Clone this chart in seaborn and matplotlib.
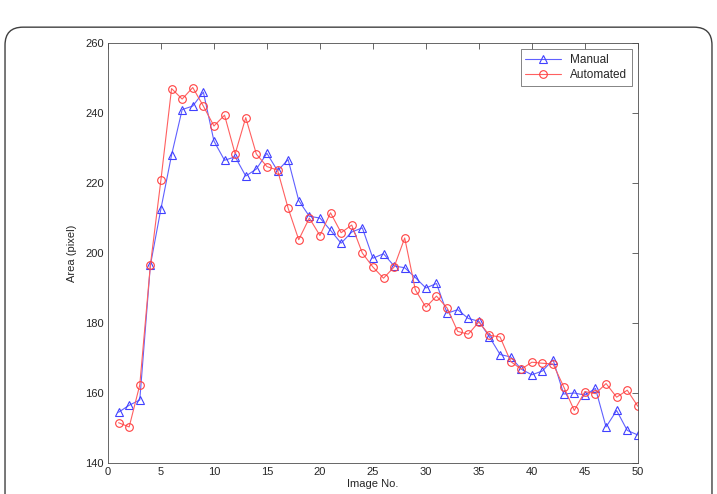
import matplotlib
matplotlib.use("Agg")
import matplotlib.pyplot as plt
from matplotlib.patches import FancyBboxPatch
import pandas as pd
import seaborn as sns

# image index and measured areas
image_no = list(range(1, 51))
manual = [154.5, 156.5, 158.0, 196.5, 212.7, 228.0, 241.0, 242.0, 246.0, 232.0,
          226.5, 227.5, 222.0, 224.0, 228.5, 223.5, 226.7, 215.0, 210.5, 210.0,
          206.5, 202.8, 206.0, 207.2, 198.5, 199.8, 196.3, 195.8, 193.0, 190.0,
          191.3, 182.8, 183.8, 181.3, 180.5, 176.0, 171.0, 170.3, 166.8, 165.2,
          166.3, 169.5, 159.7, 160.0, 159.4, 161.3, 150.3, 155.0, 149.3, 148.0]
automated = [151.5, 150.3, 162.3, 196.5, 221.0, 247.0, 244.0, 247.3, 242.0, 236.3,
             239.4, 228.3, 238.7, 228.3, 224.7, 223.7, 212.8, 203.8, 210.0, 205.0,
             211.5, 205.8, 208.0, 200.0, 196.0, 192.8, 196.0, 204.3, 189.5, 184.5,
             187.7, 184.3, 177.6, 176.8, 180.3, 176.5, 176.0, 169.0, 166.8, 168.8,
             168.5, 168.3, 161.8, 155.0, 160.4, 159.8, 162.7, 158.8, 160.8, 156.2]

df = pd.DataFrame({"Image No.": image_no, "Manual": manual, "Automated": automated})

sns.set_style("white")
plt.rcParams["font.family"] = ["Liberation Sans", "DejaVu Sans"]

fig = plt.figure(figsize=(7.17, 4.94), dpi=100)
ax = fig.add_axes([0.1506, 0.0628, 0.739, 0.850])

sns.lineplot(data=df, x="Image No.", y="Manual", ax=ax, color="#6060ff", lw=0.8,
             marker="^", markersize=5.5, mfc="none", mec="#4040ff", mew=0.8, label="Manual")
sns.lineplot(data=df, x="Image No.", y="Automated", ax=ax, color="#ff6060", lw=0.8,
             marker="o", markersize=5.5, mfc="none", mec="#ff4040", mew=0.8, label="Automated")

ax.set_xlim(0, 50)
ax.set_ylim(140, 260)
ax.set_xticks(range(0, 51, 5))
ax.set_yticks(range(140, 261, 20))
ax.tick_params(direction="in", top=True, right=True, length=4, width=0.6,
               labelsize=8, color="0.3", pad=3)
for s in ax.spines.values():
    s.set_linewidth(0.6)
    s.set_color("0.3")
ax.set_xlabel("Image No.", fontsize=8, labelpad=1)
ax.set_ylabel("Area (pixel)", fontsize=8, labelpad=6)

leg = ax.legend(loc="upper right", fontsize=8.5, frameon=True, fancybox=False,
                handlelength=3, borderaxespad=0.5, borderpad=0.4, labelspacing=0.3)
leg.get_frame().set_edgecolor("0.3")
leg.get_frame().set_linewidth(0.6)

# rounded outer frame
fig.patches.append(FancyBboxPatch((0.007, -0.1), 0.986, 1.045,
                                  boxstyle="round,pad=0,rounding_size=0.025",
                                  mutation_aspect=717 / 494,
                                  transform=fig.transFigure, fill=False,
                                  ec="0.25", lw=1.0))

fig.savefig("out.png", dpi=100)
